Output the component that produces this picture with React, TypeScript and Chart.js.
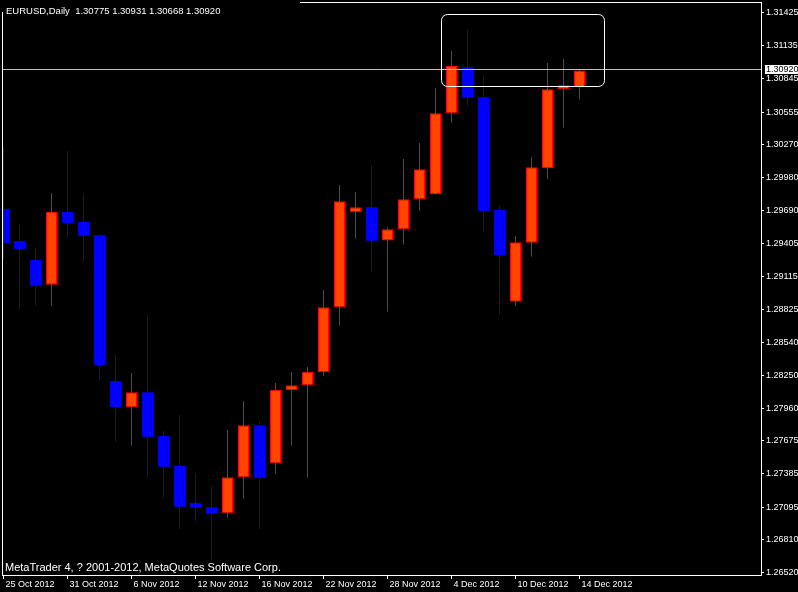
import React, { useEffect, useRef } from "react";
import { Chart, registerables } from "chart.js";

Chart.register(...registerables);

const HEADER = "EURUSD,Daily  1.30775 1.30931 1.30668 1.30920";
const FOOTNOTE = "MetaTrader 4, ? 2001-2012, MetaQuotes Software Corp.";

const dates = [
  "25 Oct 2012", "26 Oct 2012", "29 Oct 2012", "30 Oct 2012", "31 Oct 2012",
  "1 Nov 2012", "2 Nov 2012", "5 Nov 2012", "6 Nov 2012", "7 Nov 2012",
  "8 Nov 2012", "9 Nov 2012", "12 Nov 2012", "13 Nov 2012", "14 Nov 2012",
  "15 Nov 2012", "16 Nov 2012", "19 Nov 2012", "20 Nov 2012", "21 Nov 2012",
  "22 Nov 2012", "23 Nov 2012", "26 Nov 2012", "27 Nov 2012", "28 Nov 2012",
  "29 Nov 2012", "30 Nov 2012", "3 Dec 2012", "4 Dec 2012", "5 Dec 2012",
  "6 Dec 2012", "7 Dec 2012", "10 Dec 2012", "11 Dec 2012", "12 Dec 2012",
  "13 Dec 2012", "14 Dec 2012",
];

const openPrices = [
  1.29706, 1.29425, 1.29259, 1.29043, 1.29679, 1.29592, 1.29475, 1.28199, 1.27969, 1.28100,
  1.27717, 1.27455, 1.27130, 1.27093, 1.27040, 1.27356, 1.27811, 1.27478, 1.28118, 1.28161,
  1.28275, 1.28845, 1.29677, 1.29721, 1.29431, 1.29528, 1.29791, 1.29834, 1.30544, 1.30947,
  1.30684, 1.29697, 1.28894, 1.29410, 1.30062, 1.30754, 1.30775,
];
const highPrices = [
  1.30246, 1.29574, 1.29364, 1.29846, 1.30214, 1.29837, 1.29487, 1.28427, 1.28269, 1.28768,
  1.27761, 1.27901, 1.27393, 1.27279, 1.27770, 1.28024, 1.27849, 1.28182, 1.28278, 1.28322,
  1.28996, 1.29916, 1.29855, 1.30091, 1.29545, 1.30144, 1.30284, 1.30765, 1.31090, 1.31273,
  1.30873, 1.29732, 1.29469, 1.30161, 1.30984, 1.31020, 1.30931,
];
const lowPrices = [
  1.29270, 1.28830, 1.28859, 1.28859, 1.29460, 1.29253, 1.28208, 1.27667, 1.27632, 1.27361,
  1.27177, 1.26900, 1.26975, 1.26631, 1.27002, 1.27168, 1.26900, 1.27387, 1.27632, 1.27352,
  1.28246, 1.28683, 1.29446, 1.29156, 1.28806, 1.29393, 1.29691, 1.29830, 1.30462, 1.30610,
  1.29507, 1.28777, 1.28856, 1.29288, 1.29968, 1.30418, 1.30668,
];
const closePrices = [
  1.29408, 1.29355, 1.29034, 1.29679, 1.29583, 1.29472, 1.28339, 1.27971, 1.28100, 1.27711,
  1.27448, 1.27098, 1.27089, 1.27037, 1.27356, 1.27811, 1.27352, 1.28120, 1.28161, 1.28278,
  1.28845, 1.29773, 1.29721, 1.29428, 1.29528, 1.29791, 1.30053, 1.30544, 1.30958, 1.30681,
  1.29688, 1.29303, 1.29414, 1.30071, 1.30754, 1.30789, 1.30920,
];

const dateTickIndex = [0, 4, 8, 12, 16, 20, 24, 28, 32, 36];
const priceTicks = [
  1.31425, 1.31135, 1.30845, 1.30555, 1.3027, 1.2998, 1.2969, 1.29405, 1.29115,
  1.28825, 1.2854, 1.2825, 1.2796, 1.27675, 1.27385, 1.27095, 1.2681, 1.2652,
];
const bidPrice = 1.3092;
const highlightBox = { fromIndex: 27.35, toIndex: 37.56, top: 1.31412, bottom: 1.30781 };

const Y_MIN = 1.265;
const Y_MAX = 1.31519;
const X_MIN = -0.09375;
const X_MAX = 47.34375;

const BULL_FILL = "#FF4500";
const BULL_LINE = "#FF0000";
const BEAR = "#0000FF";
const WHITE = "#FFFFFF";
const FONT = '"Liberation Sans", Arial, sans-serif';

const mt4Plugin = {
  id: "mt4",
  beforeDraw(chart: any) {
    const ctx = chart.ctx;
    ctx.save();
    ctx.fillStyle = "#000000";
    ctx.fillRect(0, 0, chart.width, chart.height);
    ctx.restore();
  },
  afterDatasetsDraw(chart: any) {
    const { ctx, chartArea: a, scales } = chart;
    const x = scales.x;
    const y = scales.y;
    ctx.save();
    // bid line
    const py = Math.floor(y.getPixelForValue(bidPrice)) - 0.5;
    ctx.strokeStyle = "#C0C0C0";
    ctx.lineWidth = 1;
    ctx.beginPath();
    ctx.moveTo(a.left, py);
    ctx.lineTo(a.right, py);
    ctx.stroke();
    // highlight rounded rectangle
    const x0 = Math.round(x.getPixelForValue(highlightBox.fromIndex)) + 0.5;
    const x1 = Math.round(x.getPixelForValue(highlightBox.toIndex)) + 0.5;
    const y0 = Math.round(y.getPixelForValue(highlightBox.top)) + 0.5;
    const y1 = Math.round(y.getPixelForValue(highlightBox.bottom)) + 0.5;
    ctx.strokeStyle = WHITE;
    ctx.beginPath();
    ctx.roundRect(x0, y0, x1 - x0, y1 - y0, 6);
    ctx.stroke();
    ctx.restore();
  },
  afterDraw(chart: any) {
    const { ctx, chartArea: a, scales } = chart;
    const y = scales.y;
    ctx.save();
    // frame
    ctx.fillStyle = WHITE;
    ctx.fillRect(a.left, a.top, a.right - a.left + 1, 1);
    ctx.fillRect(a.left, a.top, 1, a.bottom - a.top + 1);
    // header
    ctx.fillStyle = "#000000";
    ctx.fillRect(0, 0, 300, 12);
    ctx.font = `9.5px ${FONT}`;
    ctx.textBaseline = "alphabetic";
    ctx.textAlign = "left";
    ctx.fillStyle = WHITE;
    ctx.fillText(HEADER, 6, 14);
    // footnote
    ctx.font = `11px ${FONT}`;
    const fw = ctx.measureText(FOOTNOTE).width;
    ctx.fillStyle = "#000000";
    ctx.fillRect(a.left + 1, 561, fw + 6, 13);
    ctx.fillStyle = WHITE;
    ctx.fillText(FOOTNOTE, 5, 571);
    // bid label
    const py = Math.floor(y.getPixelForValue(bidPrice)) - 1;
    ctx.fillStyle = WHITE;
    ctx.fillRect(a.right + 4, py - 4, chart.width - a.right - 4, 9);
    ctx.fillStyle = "#000000";
    ctx.font = `9px ${FONT}`;
    ctx.textBaseline = "middle";
    ctx.fillText(bidPrice.toFixed(5), a.right + 5, py + 0.5);
    ctx.restore();
  },
};

export default function App() {
  const canvasRef = useRef<HTMLCanvasElement | null>(null);

  useEffect(() => {
    document.body.style.margin = "0";
    document.body.style.background = "#000000";
    const canvas = canvasRef.current;
    if (!canvas) return;

    const bull = dates.map((_, i) => closePrices[i] >= openPrices[i]);
    const bodies = dates.map((_, i) => ({ x: i, y: [openPrices[i], closePrices[i]] }));
    const wicks = dates.map((_, i) => ({ x: i, y: [lowPrices[i], highPrices[i]] }));

    const chart = new Chart(canvas, {
      type: "bar",
      data: {
        datasets: [
          {
            label: "body",
            data: bodies as any,
            backgroundColor: bull.map((b) => (b ? BULL_FILL : BEAR)),
            borderColor: bull.map((b) => (b ? BULL_LINE : BEAR)),
            borderWidth: bull.map((b) => (b ? 1 : 0)),
            barThickness: 11,
            grouped: false,
            borderSkipped: false,
            inflateAmount: 0,
            order: 0,
          } as any,
          {
            label: "wick",
            data: wicks as any,
            backgroundColor: bull.map((b) => (b ? BULL_LINE : BEAR)),
            borderWidth: 0,
            barThickness: 1,
            grouped: false,
            borderSkipped: false,
            inflateAmount: 0,
            order: 1,
          } as any,
        ],
      },
      options: {
        animation: false,
        responsive: false,
        devicePixelRatio: 1,
        events: [],
        layout: { padding: { top: 2, left: 2, right: 0, bottom: 0 } },
        plugins: {
          legend: { display: false },
          tooltip: { enabled: false },
          title: { display: false },
        },
        scales: {
          x: {
            type: "linear",
            position: "bottom",
            min: X_MIN,
            max: X_MAX,
            offset: false,
            afterBuildTicks: (s: any) => {
              s.ticks = dateTickIndex.map((v) => ({ value: v }));
            },
            afterFit: (s: any) => {
              s.height = 17;
              s.paddingLeft = 0;
              s.paddingRight = 0;
            },
            grid: {
              offset: false,
              drawOnChartArea: false,
              drawTicks: true,
              tickLength: 4,
              color: WHITE,
              tickColor: WHITE,
            },
            border: { display: true, color: WHITE, width: 1 },
            ticks: {
              autoSkip: false,
              maxRotation: 0,
              minRotation: 0,
              align: "start",
              labelOffset: 2,
              padding: 0,
              color: WHITE,
              font: { family: FONT, size: 9 },
              callback: (v: any) => dates[Number(v)] ?? "",
            },
          } as any,
          y: {
            type: "linear",
            position: "right",
            min: Y_MIN,
            max: Y_MAX,
            beginAtZero: false,
            afterBuildTicks: (s: any) => {
              s.ticks = priceTicks.map((v) => ({ value: v }));
            },
            afterFit: (s: any) => {
              s.width = 37;
              s.paddingTop = 0;
              s.paddingBottom = 0;
            },
            grid: {
              drawOnChartArea: false,
              drawTicks: true,
              tickLength: 3,
              color: WHITE,
              tickColor: WHITE,
            },
            border: { display: true, color: WHITE, width: 1 },
            ticks: {
              autoSkip: false,
              padding: 2,
              color: WHITE,
              font: { family: FONT, size: 9 },
              callback: (v: any) => Number(v).toFixed(5),
            },
          } as any,
        },
      },
      plugins: [mt4Plugin],
    });

    return () => chart.destroy();
  }, []);

  return (
    <div style={{ width: 798, height: 592, background: "#000000" }}>
      <canvas ref={canvasRef} width={798} height={592} style={{ display: "block" }} />
    </div>
  );
}
